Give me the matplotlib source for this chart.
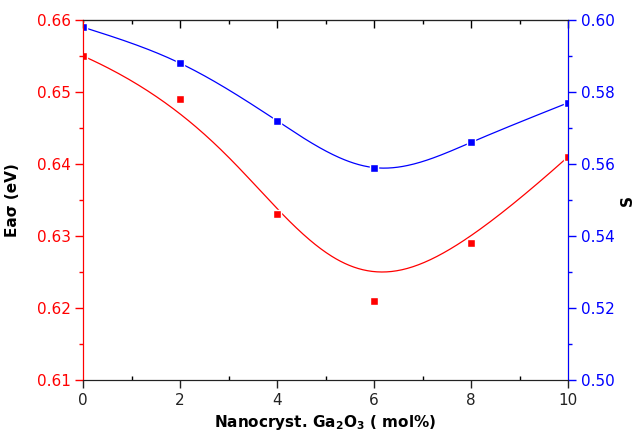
import numpy as np
import matplotlib.pyplot as plt
from matplotlib.ticker import MultipleLocator

mol = [0, 2, 4, 6, 8, 10]
ea = [0.655, 0.649, 0.633, 0.621, 0.629, 0.641]
s_vals = [0.598, 0.588, 0.572, 0.559, 0.566, 0.577]


def natural_spline(x, y, xs):
    # plain natural cubic spline, solved with numpy
    x = np.asarray(x, float)
    y = np.asarray(y, float)
    n = len(x)
    h = np.diff(x)
    A = np.zeros((n, n))
    b = np.zeros(n)
    A[0, 0] = A[-1, -1] = 1
    for i in range(1, n - 1):
        A[i, i - 1] = h[i - 1]
        A[i, i] = 2 * (h[i - 1] + h[i])
        A[i, i + 1] = h[i]
        b[i] = 3 * ((y[i + 1] - y[i]) / h[i] - (y[i] - y[i - 1]) / h[i - 1])
    c = np.linalg.solve(A, b)
    out = np.empty_like(xs)
    for k, xv in enumerate(xs):
        i = min(np.searchsorted(x, xv, side='right') - 1, n - 2)
        dx = xv - x[i]
        bi = (y[i + 1] - y[i]) / h[i] - h[i] * (2 * c[i] + c[i + 1]) / 3
        di = (c[i + 1] - c[i]) / (3 * h[i])
        out[k] = y[i] + bi * dx + c[i] * dx ** 2 + di * dx ** 3
    return out


def bspline_curve(x, y, npts=300, k=3):
    # clamped B-spline using the data points as control points
    ctrl = np.column_stack([x, y]).astype(float)
    n = len(ctrl)
    knots = np.concatenate([np.zeros(k), np.arange(n - k + 1), np.full(k, n - k)]).astype(float)
    t = np.linspace(0, n - k, npts)
    t[-1] -= 1e-9

    def basis(i, p, tt):
        if p == 0:
            return ((knots[i] <= tt) & (tt < knots[i + 1])).astype(float)
        left = 0.0
        right = 0.0
        d1 = knots[i + p] - knots[i]
        d2 = knots[i + p + 1] - knots[i + 1]
        if d1 > 0:
            left = (tt - knots[i]) / d1 * basis(i, p - 1, tt)
        if d2 > 0:
            right = (knots[i + p + 1] - tt) / d2 * basis(i + 1, p - 1, tt)
        return left + right

    B = np.column_stack([basis(i, k, t) for i in range(n)])
    pts = B @ ctrl
    return pts[:, 0], pts[:, 1]


xs = np.linspace(0, 10, 300)
red_x, red_y = bspline_curve(mol, ea)
blue_fit = natural_spline(mol, s_vals, xs)

fig = plt.figure(figsize=(6.34, 4.33), dpi=100)
ax = fig.add_axes([0.131, 0.1224, 0.765, 0.8314])
ax2 = ax.twinx()

ax.plot(red_x, red_y, color='red', lw=0.9)
ax.plot(mol, ea, 's', color='red', ms=6, mec='white', mew=1, ls='none')
ax2.plot(xs, blue_fit, color='blue', lw=0.9)
ax2.plot(mol, s_vals, 's', color='blue', ms=6, mec='white', mew=1, ls='none')

ax.set_xlim(0, 10)
ax.set_ylim(0.61, 0.66)
ax2.set_ylim(0.50, 0.60)

ax.xaxis.set_major_locator(MultipleLocator(2))
ax.xaxis.set_minor_locator(MultipleLocator(1))
ax.yaxis.set_major_locator(MultipleLocator(0.01))
ax.yaxis.set_minor_locator(MultipleLocator(0.005))
ax2.yaxis.set_major_locator(MultipleLocator(0.02))
ax2.yaxis.set_minor_locator(MultipleLocator(0.01))
ax.yaxis.set_major_formatter(plt.FormatStrFormatter('%.2f'))
ax2.yaxis.set_major_formatter(plt.FormatStrFormatter('%.2f'))

ax.spines['left'].set_color('red')
ax2.spines['left'].set_color('red')
ax2.spines['right'].set_color('blue')
for a in (ax, ax2):
    a.spines['top'].set_color('#222222')
    a.spines['bottom'].set_color('#222222')

ax.tick_params(axis='x', which='major', direction='out', length=6, width=1,
               labelsize=11, colors='#222222', pad=3)
ax.tick_params(axis='x', which='minor', direction='in', length=3, width=1)
ax.tick_params(axis='y', which='major', direction='out', length=6, width=1,
               labelsize=11, colors='red', pad=3)
ax.tick_params(axis='y', which='minor', direction='out', length=3, width=1,
               colors='red')
ax2.tick_params(axis='y', which='major', direction='out', length=6, width=1,
                labelsize=11, colors='blue', pad=3)
ax2.tick_params(axis='y', which='minor', direction='out', length=3, width=1,
                colors='blue')

top = ax.secondary_xaxis('top')
top.xaxis.set_major_locator(MultipleLocator(2))
top.xaxis.set_minor_locator(MultipleLocator(1))
top.tick_params(which='major', direction='in', length=6, width=1, labeltop=False)
top.tick_params(which='minor', direction='in', length=3, width=1)
top.spines['top'].set_color('#222222')

ax.set_xlabel('Nanocryst. Ga$_\\mathbf{2}$O$_\\mathbf{3}$ ( mol%)',
              fontsize=11, fontweight='bold', labelpad=4)
ax.set_ylabel('Ea\u03c3 (eV)', fontsize=11, fontweight='bold', labelpad=12)
ax2.set_ylabel('S', fontsize=11, fontweight='bold', rotation=90, labelpad=4)

fig.savefig('out.png', dpi=100)
